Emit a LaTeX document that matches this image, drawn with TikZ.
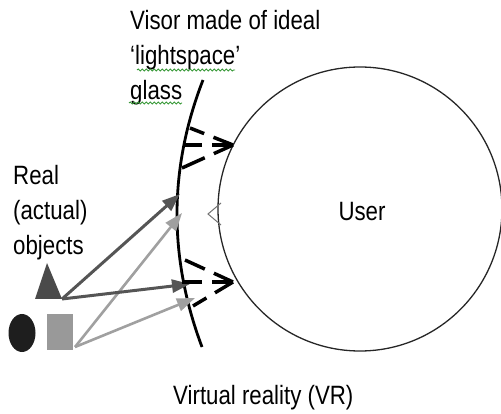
\documentclass[tikz,border=0pt]{standalone}
\usepackage{fontspec}
\newfontfamily\lab{Liberation Sans}[FakeStretch=0.84]
\usetikzlibrary{arrows.meta,decorations.pathmorphing,shapes.geometric}
\definecolor{darkobj}{HTML}{4A4A4A}
\definecolor{darkarrow}{HTML}{555555}
\definecolor{lightobj}{HTML}{999999}
\definecolor{lightarrow}{HTML}{A0A0A0}
\definecolor{blackobj}{HTML}{1E1E1E}
\definecolor{squiggle}{HTML}{3A9A3A}
\tikzset{
  label text/.style={font=\lab\fontsize{26.5}{35}\selectfont, inner sep=0pt, align=left, text=black},
  ray dark/.style={draw=darkarrow, line width=3pt, -{Triangle[length=18pt,width=13pt]}},
  ray light/.style={draw=lightarrow, line width=2.6pt, -{Triangle[length=18pt,width=13pt]}},
  virtual ray/.style={draw=black, line width=3.5pt, dash pattern=on 21pt off 10pt on 100pt off 0pt},
  spell/.style={draw=squiggle, line width=0.9pt, decorate, decoration={snake, segment length=4pt, amplitude=1pt}}
}
\begin{document}
\begin{tikzpicture}[x=1pt,y=-1pt]
\useasboundingbox (0,0) rectangle (501,414);

% user
\node[circle, draw=black!85, line width=1.3pt, minimum size=284pt, inner sep=0pt] (user) at (360,209) {};
\node[label text] (usertxt) at (362,212) {User};
\draw[black!55, line width=1pt] (221,203) -- (208,214) -- (221,225);

% visor
\coordinate (vtop) at (203,80);
\coordinate (vbot) at (202,347);
\draw[black, line width=2.8pt] (vtop) .. controls (168.7,168.3) and (168.3,257.3) .. (vbot);

% objects
\coordinate (tril) at (35,299);
\coordinate (trit) at (47,263);
\coordinate (trib) at (62,299);
\fill[darkobj] (tril) -- (trit) -- (trib) -- cycle;
\node[ellipse, fill=blackobj, minimum width=27pt, minimum height=38pt, inner sep=0pt] (ball) at (22,333) {};
\node[rectangle, fill=lightobj, minimum width=26pt, minimum height=36pt, inner sep=0pt, anchor=north west] (box) at (47,314) {};
\coordinate (boxc) at (75,347);

% real rays
\coordinate (t1) at (180,194);
\coordinate (t2) at (190,284);
\coordinate (t3) at (182,213);
\coordinate (t4) at (195,298);
\draw[ray light] (boxc) -- (t3);
\draw[ray light] (boxc) -- (t4);
\draw[ray dark] (trib) -- (t1);
\draw[ray dark] (trib) -- (t2);

% virtual rays (upper)
\coordinate (e1) at (233,145);
\coordinate (u1) at (190,128);
\coordinate (u2) at (185,145);
\coordinate (u3) at (182,168);
\draw[virtual ray] (e1) -- (u1);
\draw[virtual ray] (e1) -- (u2);
\draw[virtual ray] (e1) -- (u3);
% virtual rays (lower)
\coordinate (e2) at (233,282);
\coordinate (l1) at (185,260);
\coordinate (l2) at (182,282);
\coordinate (l3) at (193,306);
\draw[virtual ray] (e2) -- (l1);
\draw[virtual ray] (e2) -- (l2);
\draw[virtual ray] (e2) -- (l3);

% labels
\node[label text, anchor=north west] (visortxt) at (130,10) {Visor made of ideal\\‘lightspace’\\glass};
\node[label text, anchor=north west] (realtxt) at (13,165) {Real\\(actual)\\objects};
\node[label text, anchor=north west] (vrtxt) at (173,385) {Virtual reality (VR)};

\draw[spell] (137,70) -- (235,70);
\draw[spell] (129,103) -- (182,103);
\end{tikzpicture}
\end{document}
